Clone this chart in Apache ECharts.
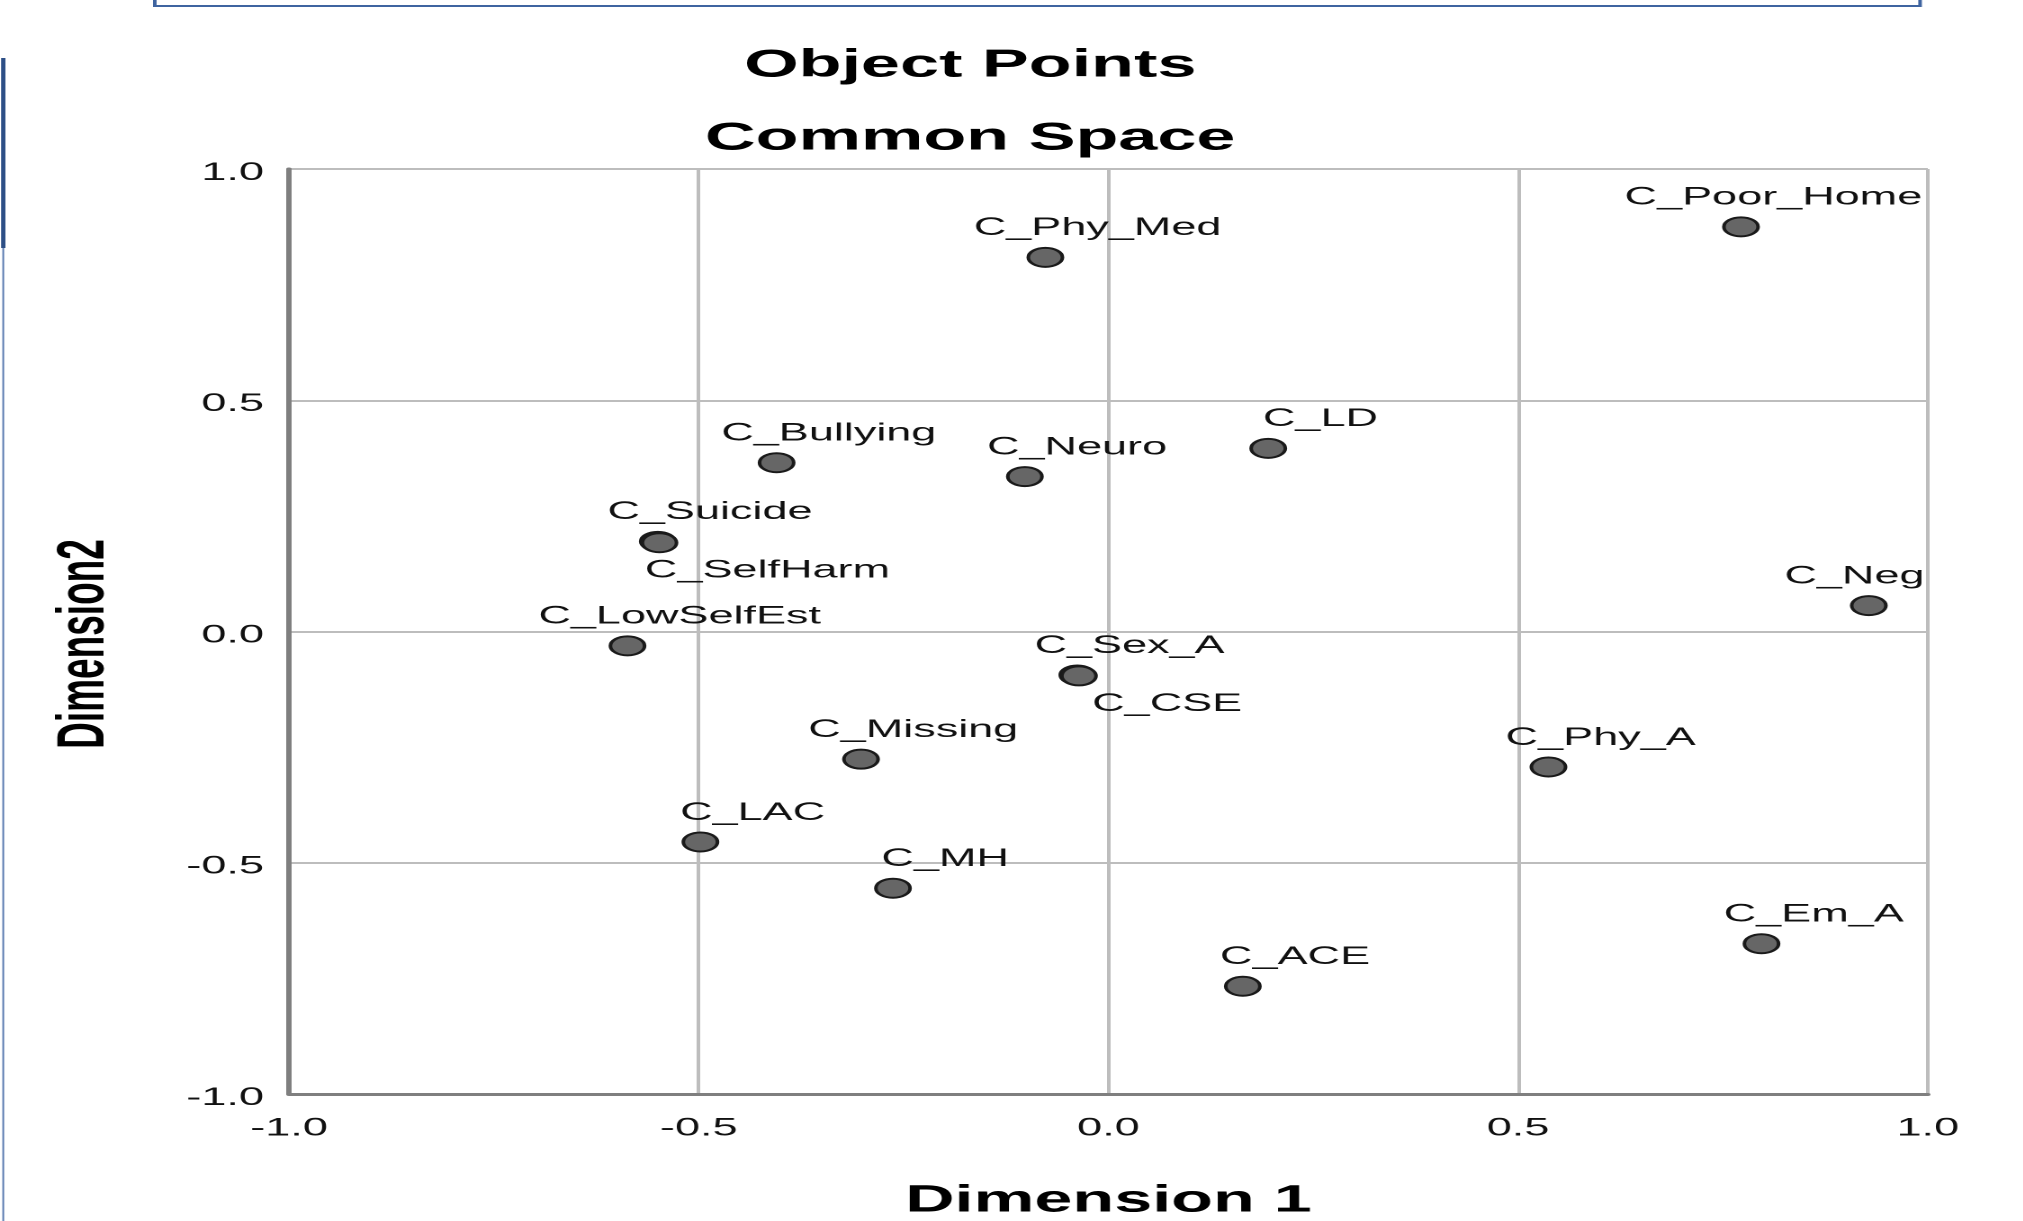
<!DOCTYPE html>
<html>
<head>
<meta charset="utf-8">
<title>Object Points - Common Space</title>
<script src="https://cdn.jsdelivr.net/npm/echarts@6/dist/echarts.min.js"></script>
<style>
    html, body { margin: 0; padding: 0; background: #fff; overflow: hidden; }
    /* 原图是横向拉伸过的 SPSS 图，这里整体横向拉伸 1.8 倍 */
    .echarts_box {
        width: 1123.9px;
        height: 1221px;
        transform: scaleX(1.8);
        transform-origin: 0 0;
    }
</style>
</head>
<body>
<div class="echarts_box"></div>
<script>
// 数据
var names = ['C_Phy_Med', 'C_Poor_Home', 'C_Bullying', 'C_Neuro', 'C_LD', 'C_Suicide', 'C_SelfHarm',
    'C_LowSelfEst', 'C_Neg', 'C_Sex_A', 'C_CSE', 'C_Missing', 'C_Phy_A', 'C_LAC', 'C_MH', 'C_Em_A', 'C_ACE'];
var dim1 = [-0.077, 0.772, -0.405, -0.102, 0.195, -0.550, -0.548,
    -0.587, 0.928, -0.038, -0.036, -0.302, 0.537, -0.498, -0.263, 0.797, 0.164];
var dim2 = [0.809, 0.875, 0.365, 0.335, 0.396, 0.195, 0.192,
    -0.031, 0.056, -0.094, -0.096, -0.276, -0.293, -0.455, -0.555, -0.675, -0.767];
var axisTicks = [-1.0, -0.5, 0.0, 0.5, 1.0];

// 标签位置微调（样式，不是数据）
var labelTweak = {
    'C_Poor_Home': { dx: 18 },
    'C_Neg': { dx: -8 },
    'C_SelfHarm': { pos: 'bottom', dx: 60 },
    'C_CSE': { pos: 'bottom', dx: 49 }
};

var font = '"Liberation Sans", Arial, sans-serif';

var points = names.map(function (n, i) {
    var t = labelTweak[n] || {};
    var pos = t.pos || 'top';
    return {
        name: n,
        value: [dim1[i], dim2[i]],
        label: {
            position: pos,
            distance: pos === 'top' ? 6 : 5,
            offset: [t.dx !== undefined ? t.dx : 29, 0]
        }
    };
});

var myChart = echarts.init(document.querySelector('.echarts_box'), null, { devicePixelRatio: 2 });

var option = {
    backgroundColor: '#fff',
    animation: false,
    title: [{
        text: 'Object Points',
        left: 539,
        top: 46,
        padding: 0,
        textAlign: 'center',
        textStyle: { fontFamily: font, fontSize: 39, fontWeight: 'bold', color: '#000' }
    }, {
        text: 'Common Space',
        left: 539,
        top: 119,
        padding: 0,
        textAlign: 'center',
        textStyle: { fontFamily: font, fontSize: 39, fontWeight: 'bold', color: '#000' }
    }],
    grid: {
        left: 160.6,
        right: 53,
        top: 169,
        bottom: 127,
        containLabel: false,
        outerBoundsMode: 'none'
    },
    xAxis: {
        type: 'value',
        min: axisTicks[0],
        max: axisTicks[axisTicks.length - 1],
        interval: 0.5,
        name: 'Dimension 1',
        nameLocation: 'middle',
        nameGap: 88,
        nameTextStyle: { fontFamily: font, fontSize: 38, fontWeight: 'bold', color: '#000' },
        axisLine: { onZero: false, lineStyle: { color: '#7f7f7f', width: 3 } },
        axisTick: { show: false },
        axisLabel: {
            margin: 22,
            fontFamily: font,
            fontSize: 25,
            color: '#111',
            formatter: function (v) { return v.toFixed(1); }
        },
        splitLine: { show: true, lineStyle: { color: '#bdbdbd', width: 2 } }
    },
    yAxis: {
        type: 'value',
        min: axisTicks[0],
        max: axisTicks[axisTicks.length - 1],
        interval: 0.5,
        name: 'Dimension2',
        nameLocation: 'middle',
        nameRotate: 90,
        nameGap: 95,
        nameTextStyle: { fontFamily: font, fontSize: 37, fontWeight: 'bold', color: '#000', padding: [0, 25, 0, 0] },
        axisLine: { onZero: false, lineStyle: { color: '#7f7f7f', width: 3 } },
        axisTick: { show: false },
        axisLabel: {
            margin: 14,
            fontFamily: font,
            fontSize: 25,
            color: '#111',
            verticalAlign: 'top',
            lineHeight: 8,
            formatter: function (v) { return v.toFixed(1); }
        },
        splitLine: { show: true, lineStyle: { color: '#bdbdbd', width: 2 } }
    },
    // 原图页面上的蓝色边框残留
    graphic: [{
        type: 'polyline',
        shape: { points: [[86, -10], [86, 6], [1066.7, 6], [1066.7, -10]] },
        style: { stroke: '#3f64a0', lineWidth: 2, fill: null }
    }, {
        type: 'line',
        shape: { x1: 1.8, y1: 58, x2: 1.8, y2: 248 },
        style: { stroke: '#2d4f86', lineWidth: 2.4 }
    }, {
        type: 'line',
        shape: { x1: 1.8, y1: 248, x2: 1.8, y2: 1221 },
        style: { stroke: '#5a7bb0', lineWidth: 1 }
    }],
    series: [{
        name: 'Object Points',
        type: 'scatter',
        symbol: 'circle',
        symbolSize: 19,
        itemStyle: { color: '#666666', borderColor: '#1a1a1a', borderWidth: 2, opacity: 1 },
        label: {
            show: true,
            formatter: '{b}',
            fontFamily: font,
            fontSize: 25,
            color: '#111'
        },
        data: points
    }]
};

myChart.setOption(option);
</script>
</body>
</html>
